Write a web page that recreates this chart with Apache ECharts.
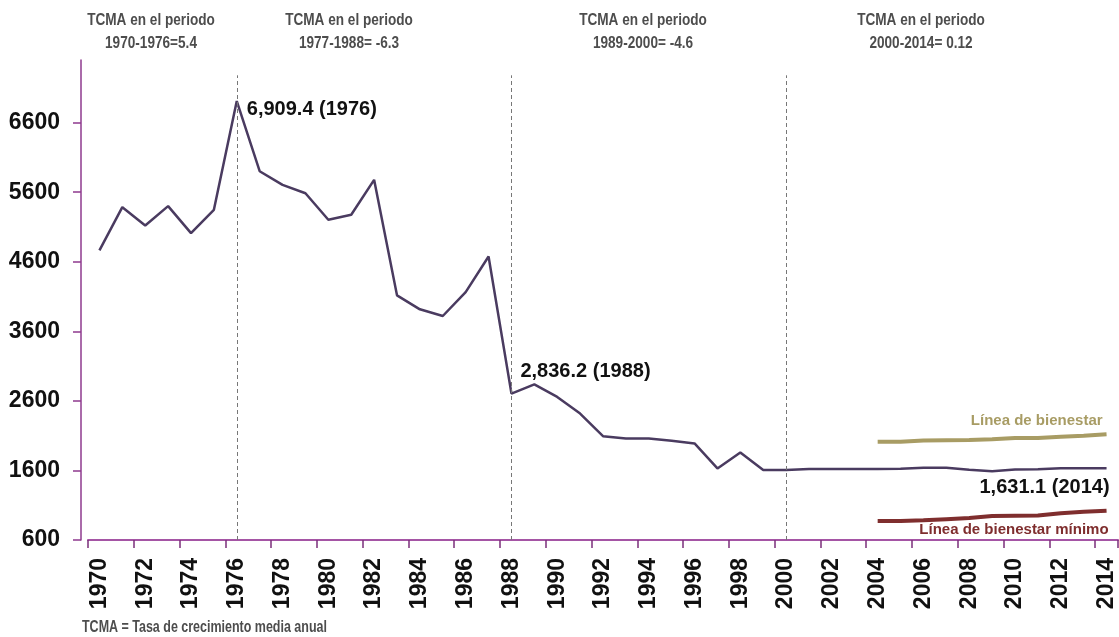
<!DOCTYPE html>
<html><head><meta charset="utf-8">
<script src="https://cdn.jsdelivr.net/npm/echarts@6/dist/echarts.min.js"></script>
<style>html,body{margin:0;padding:0;background:#fff}#c{width:1119px;height:637px}</style>
</head><body><div id="c"></div>
<script>
const years = [];
for (let y = 1970; y <= 2014; y++) years.push(String(y));
const ingreso = [4763, 5384, 5121, 5399, 5011, 5346, 6909.4, 5901, 5705, 5585, 5203, 5275, 5777,
  4117, 3916, 3820, 4164, 4676, 2705, 2836.2, 2657, 2418, 2093, 2060, 2060, 2026, 1988, 1629, 1859, 1605,
  1605, 1620, 1622, 1622, 1622, 1625, 1640, 1638, 1610, 1590, 1612, 1618, 1630, 1630, 1631.1];
const bienestar = [null,null,null,null,null,null,null,null,null,null,null,null,null,null,null,null,null,null,null,null,
  null,null,null,null,null,null,null,null,null,null,null,null,null,null,
  2011, 2013, 2030, 2035, 2036, 2050, 2065, 2068, 2085, 2100, 2121];
const bienestarMin = [null,null,null,null,null,null,null,null,null,null,null,null,null,null,null,null,null,null,null,null,
  null,null,null,null,null,null,null,null,null,null,null,null,null,null,
  873, 873, 885, 900, 915, 945, 950, 952, 985, 1005, 1021];
const yTicks = [600, 1600, 2600, 3600, 4600, 5600, 6600];
const periodYears = ['1976', '1988', '2000'];
const periodTitles = ['TCMA en el periodo\n1970-1976=5.4', 'TCMA en el periodo\n1977-1988= -6.3',
  'TCMA en el periodo\n1989-2000= -4.6', 'TCMA en el periodo\n2000-2014= 0.12'];
const footnote = 'TCMA = Tasa de crecimiento media anual';

const SANS = "'Liberation Sans', Arial, sans-serif";

function labelled(arr, idx, cfg) {
  return arr.map((v, i) => {
    if (idx.indexOf(i) < 0) return v;
    return { value: v, label: cfg[idx.indexOf(i)] };
  });
}
const bigLbl = { show: true, fontFamily: SANS, fontWeight: 'bold', fontSize: 20, color: '#111', verticalAlign: 'middle' };
const mainData = labelled(ingreso, [6, 18, 44], [
  Object.assign({}, bigLbl, { position: [10, 8], align: 'left', formatter: '6,909.4 (1976)' }),
  Object.assign({}, bigLbl, { position: [9, -22], align: 'left', formatter: '2,836.2 (1988)' }),
  Object.assign({}, bigLbl, { position: [3, 19], align: 'right', formatter: '1,631.1 (2014)' })
]);
const bData = labelled(bienestar, [44], [{ show: true, position: [-4, -13], align: 'right', verticalAlign: 'middle',
  fontFamily: SANS, fontWeight: 'bold', fontSize: 15, color: '#a89c64', formatter: 'Línea de bienestar' }]);
const mData = labelled(bienestarMin, [44], [{ show: true, position: [2, 19], align: 'right', verticalAlign: 'middle',
  fontFamily: SANS, fontWeight: 'bold', fontSize: 15, color: '#7f2e2e', formatter: 'Línea de bienestar mínimo' }]);

const chart = echarts.init(document.getElementById('c'));
const titleX = [151, 349, 643, 921];
chart.setOption({
  animation: false,
  backgroundColor: '#fff',
  grid: { left: 88, right: 1, top: 60, bottom: 97, containLabel: false, outerBoundsMode: 'none' },
  xAxis: {
    type: 'category', data: years, boundaryGap: true,
    axisLine: { lineStyle: { color: '#a555a5', width: 2 } },
    axisTick: { show: true, length: 8, lineStyle: { color: '#7b2f7b', width: 1.5 } },
    axisLabel: { interval: 1, rotate: 90, margin: 18, fontFamily: SANS,
      fontWeight: 'bold', fontSize: 23, color: '#111' }
  },
  yAxis: {
    type: 'value', min: 600, max: 7500, offset: 7,
    splitLine: { show: false },
    axisLine: { show: true, lineStyle: { color: '#8e3a8e', width: 1.5 } },
    axisTick: { show: true, length: 8, customValues: yTicks, lineStyle: { color: '#8e3a8e', width: 1.5 } },
    axisLabel: { customValues: yTicks, margin: 21, formatter: v => String(v),
      fontFamily: SANS, fontWeight: 'bold', fontSize: 23, color: '#111' }
  },
  series: [
    {
      type: 'line', data: mainData, showSymbol: true, symbol: 'circle', symbolSize: 0,
      lineStyle: { color: '#4a3b60', width: 2.5 }, itemStyle: { color: '#4a3b60' },
      emphasis: { disabled: true },
      markLine: {
        silent: true, symbol: 'none', label: { show: false },
        lineStyle: { color: '#777', type: [4, 3], width: 1 },
        data: periodYears.map(y => [{ coord: [y, 600] }, { coord: [y, 7280] }])
      }
    },
    {
      type: 'line', data: bData, showSymbol: true, symbol: 'circle', symbolSize: 0,
      lineStyle: { color: '#a89c64', width: 4 }, itemStyle: { color: '#a89c64' }, emphasis: { disabled: true }
    },
    {
      type: 'line', data: mData, showSymbol: true, symbol: 'circle', symbolSize: 0,
      lineStyle: { color: '#7f2e2e', width: 4 }, itemStyle: { color: '#7f2e2e' }, emphasis: { disabled: true }
    }
  ],
  graphic: periodTitles.map((t, i) => ({
    type: 'text', x: titleX[i], y: 9, scaleX: 0.8,
    style: { text: t, align: 'center', verticalAlign: 'top', fontFamily: SANS, fontWeight: 'bold',
      fontSize: 17, lineHeight: 23, fill: '#4d4d4d' }
  })).concat([{
    type: 'text', x: 82, y: 628, scaleX: 0.78,
    style: { text: footnote, align: 'left', verticalAlign: 'middle', fontFamily: SANS, fontWeight: 'bold',
      fontSize: 16, fill: '#4d4d4d' }
  }])
});
</script></body></html>
